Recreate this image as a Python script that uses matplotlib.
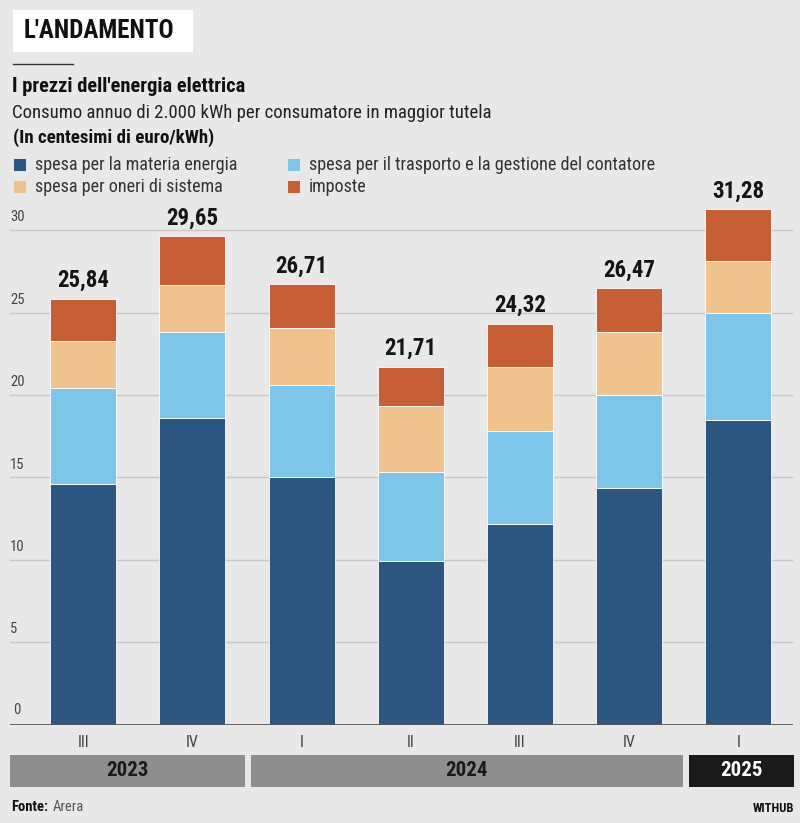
import matplotlib
matplotlib.use("Agg")
import matplotlib.pyplot as plt
from matplotlib import font_manager as fm
from matplotlib.patches import Rectangle

# ---- data ----
quarters = ["III", "IV", "I", "II", "III", "IV", "I"]
years = ["2023", "2024", "2025"]
totals = [25.84, 29.65, 26.71, 21.71, 24.32, 26.47, 31.28]
energia = [14.6, 18.6, 15.0, 9.95, 12.15, 14.35, 18.5]
trasporto = [5.8, 5.2, 5.6, 5.4, 5.65, 5.65, 6.5]
oneri = [2.9, 2.9, 3.45, 4.0, 3.9, 3.85, 3.15]
imposte = [round(t - e - tr - o, 2) for t, e, tr, o in zip(totals, energia, trasporto, oneri)]
total_labels = ["25,84", "29,65", "26,71", "21,71", "24,32", "26,47", "31,28"]
series_names = ["spesa per la materia energia",
                "spesa per il trasporto e la gestione del contatore",
                "spesa per oneri di sistema", "imposte"]
yticks = [0, 5, 10, 15, 20, 25, 30]

colors = ["#2C567F", "#7DC6EA", "#F0C28E", "#C65F36"]
BG = "#E8E8E8"

avail = {f.name for f in fm.fontManager.ttflist}
cond = None
for cand in ["Roboto Condensed", "Liberation Sans Narrow", "Roboto", "DejaVu Sans"]:
    if cand in avail:
        cond = cand
        break
plt.rcParams['font.family'] = [cond, 'DejaVu Sans']

W, H = 800, 823
fig = plt.figure(figsize=(W / 100, H / 100), dpi=100, facecolor=BG)

def px(x, y):
    return x / W, 1 - y / H

# ---- axes ----
base_px, top_px = 724.5, 189
ymax = 32.5
ax = fig.add_axes([10 / W, 1 - base_px / H, 783 / W, (base_px - top_px) / H])
ax.set_facecolor(BG)
ax.set_xlim(-0.67, 6.5)
ax.set_ylim(0, ymax)
for s in ax.spines.values():
    s.set_visible(False)
ax.set_xticks([])
ax.set_yticks([])
for v in yticks[1:]:
    ax.axhline(v, color="#C8C8C8", lw=1.0, zorder=0)
    ax.text(-0.67, v + 0.35, str(v), fontsize=10.5, color="#444444", ha="left", va="bottom")
ax.text(-0.67 + 0.03, 0.45, "0", fontsize=10.5, color="#444444", ha="left", va="bottom")
ax.axhline(0, color="#555555", lw=2, zorder=3)

x = list(range(len(quarters)))
bottom = [0] * len(x)
for vals, c, name in zip([energia, trasporto, oneri, imposte], colors, series_names):
    ax.bar(x, vals, bottom=bottom, width=0.605, color=c, edgecolor="white",
           linewidth=0.6, zorder=2, label=name)
    bottom = [b + v for b, v in zip(bottom, vals)]
for xi, t, lab in zip(x, totals, total_labels):
    ax.text(xi, t + 0.4, lab, ha="center", va="bottom", fontsize=16.5,
            fontweight="bold", color="#151515")

# quarter labels
for xi, q in zip(x, quarters):
    ax.text(xi, -1.1, q, ha="center", va="center", fontsize=11.5, color="#444444")

# year bands
band_top, band_bot = 755, 787
bands_px = [(10, 245), (251, 683), (689, 794)]
for (x0, x1), yr, i in zip(bands_px, years, range(3)):
    fc = "#1A1A1A" if i == 2 else "#8E8E8E"
    tc = "white" if i == 2 else "#1A1A1A"
    fx0, fy0 = px(x0, band_bot)
    fig.patches.append(Rectangle((fx0, fy0), (x1 - x0) / W, (band_bot - band_top) / H,
                                 transform=fig.transFigure, facecolor=fc, edgecolor="none"))
    cx, cy = px((x0 + x1) / 2, (band_top + band_bot) / 2)
    fig.text(cx, cy, yr, ha="center", va="center", fontsize=15, fontweight="bold", color=tc)

# ---- header ----
fx0, fy0 = px(13, 52)
fig.patches.append(Rectangle((fx0, fy0), 180 / W, 42 / H, transform=fig.transFigure,
                             facecolor="white", edgecolor="none"))
fig.text(*px(24, 31), "L'ANDAMENTO", fontsize=18, fontweight="bold", color="#111111",
         ha="left", va="center")
fig.add_artist(plt.Line2D([13 / W, 73 / W], [1 - 64 / H] * 2, color="#333333", lw=1,
                          transform=fig.transFigure))
fig.text(*px(12, 87), "I prezzi dell'energia elettrica", fontsize=14.8, fontweight="bold",
         color="#111111", ha="left", va="center")
fig.text(*px(12, 113), "Consumo annuo di 2.000 kWh per consumatore in maggior tutela",
         fontsize=13.5, color="#222222", ha="left", va="center")
fig.text(*px(13, 138), "(In centesimi di euro/kWh)", fontsize=13.6, fontweight="bold",
         color="#111111", ha="left", va="center")

# legend (manual)
leg_pos = [(14, 165), (288, 165), (14, 187), (288, 187)]
for (lx, ly), c, name in zip(leg_pos, colors, series_names):
    fx, fy = px(lx, ly + 6)
    fig.patches.append(Rectangle((fx, fy), 12 / W, 12 / H, transform=fig.transFigure,
                                 facecolor=c, edgecolor="none"))
    fig.text(*px(lx + 21, ly), name, fontsize=13.1, color="#333333", ha="left", va="center")

# footer
fig.text(*px(11, 807), "Fonte:", fontsize=10.5, fontweight="bold", color="#111111",
         ha="left", va="center")
fig.text(*px(53, 807), "Arera", fontsize=10.5, color="#555555", ha="left", va="center")
fig.text(*px(794, 809), "WITHUB", fontsize=9, fontweight="bold", color="#111111",
         ha="right", va="center")

fig.savefig("out.png", dpi=100, facecolor=BG)
